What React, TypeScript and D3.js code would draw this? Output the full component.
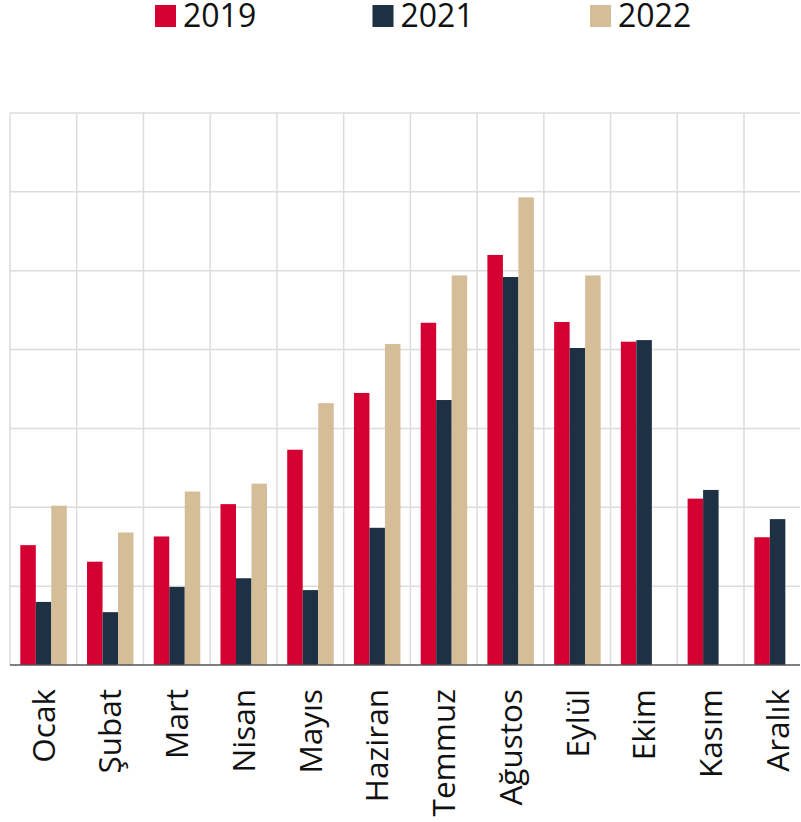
import React, { useRef, useEffect } from "react";
import * as d3 from "d3";

const months = ["Ocak", "Şubat", "Mart", "Nisan", "Mayıs", "Haziran", "Temmuz", "Ağustos", "Eylül", "Ekim", "Kasım", "Aralık"];
const seriesNames = ["2019", "2021", "2022"];
const values2019 = [152, 131, 163, 204, 273, 345, 434, 520, 435, 410, 211, 162];
const values2021 = [80, 67, 99, 110, 95, 174, 336, 492, 402, 412, 222, 185];
const values2022: (number | null)[] = [202, 168, 220, 230, 332, 407, 494, 593, 494, null, null, null];
const colors = ["#d50032", "#1d3044", "#d4bd97"];
const yTicks = [0, 100, 200, 300, 400, 500, 600, 700];

const App: React.FC = () => {
    const svgRef = useRef<SVGSVGElement | null>(null);

    useEffect(() => {
        if (!svgRef.current) return;
        const svg = d3.select(svgRef.current);
        svg.selectAll("*").remove();

        const left = 10;
        const right = 800;
        const top = 113;
        const bottom = 665;
        const step = 66.73;

        const x0 = d3.scaleBand<string>().domain(months).range([left, left + step * months.length]).padding(0);
        const x1 = d3.scaleBand<string>().domain(seriesNames).range([10.3, 56.8]).padding(0);
        const y = d3.scaleLinear().domain([0, 700]).range([bottom, top]);

        const series = [values2019, values2021, values2022];
        const font = "'Open Sans', sans-serif";

        // grid
        svg.append("g")
            .selectAll("line")
            .data(yTicks.slice(1))
            .enter()
            .append("line")
            .attr("x1", left)
            .attr("x2", right)
            .attr("y1", (d) => y(d))
            .attr("y2", (d) => y(d))
            .attr("stroke", "#dcdcdc")
            .attr("stroke-width", 1.5);

        svg.append("g")
            .selectAll("line")
            .data(months)
            .enter()
            .append("line")
            .attr("x1", (d) => x0(d)!)
            .attr("x2", (d) => x0(d)!)
            .attr("y1", top)
            .attr("y2", bottom)
            .attr("stroke", "#dcdcdc")
            .attr("stroke-width", 1.5);

        // bars
        series.forEach((vals, si) => {
            svg.append("g")
                .selectAll("rect")
                .data(months.map((m, i) => ({ m, v: vals[i] })).filter((d) => d.v != null))
                .enter()
                .append("rect")
                .attr("x", (d) => x0(d.m)! + x1(seriesNames[si])!)
                .attr("width", x1.bandwidth())
                .attr("y", (d) => y(d.v as number))
                .attr("height", (d) => bottom - y(d.v as number))
                .attr("fill", colors[si]);
        });

        // baseline
        svg.append("line")
            .attr("x1", left)
            .attr("x2", right)
            .attr("y1", bottom)
            .attr("y2", bottom)
            .attr("stroke", "#555")
            .attr("stroke-width", 1.5);

        // month labels
        svg.append("g")
            .selectAll("text")
            .data(months)
            .enter()
            .append("text")
            .attr("transform", (d) => `translate(${x0(d)! + x0.bandwidth() / 2},689) rotate(-90)`)
            .attr("text-anchor", "end")
            .attr("dy", "0.36em")
            .style("font-family", font)
            .style("font-size", "31.5px")
            .style("fill", "#111")
            .text((d) => d);

        // legend
        const legend = svg
            .selectAll(".legend")
            .data(seriesNames)
            .enter()
            .append("g")
            .attr("class", "legend")
            .attr("transform", (d, i) => `translate(${155 + i * 217.5},0)`);

        legend.append("rect")
            .attr("y", 5)
            .attr("width", 21)
            .attr("height", 22)
            .attr("fill", (d, i) => colors[i]);

        legend.append("text")
            .attr("x", 28)
            .attr("y", 27)
            .style("font-family", font)
            .style("font-size", "32px")
            .style("fill", "#111")
            .text((d) => d);
    }, []);

    return (
        <svg
            ref={svgRef}
            width={801}
            height={822}
            style={{ position: "absolute", left: 0, top: 0, background: "#fff" }}
        />
    );
};

export default App;
